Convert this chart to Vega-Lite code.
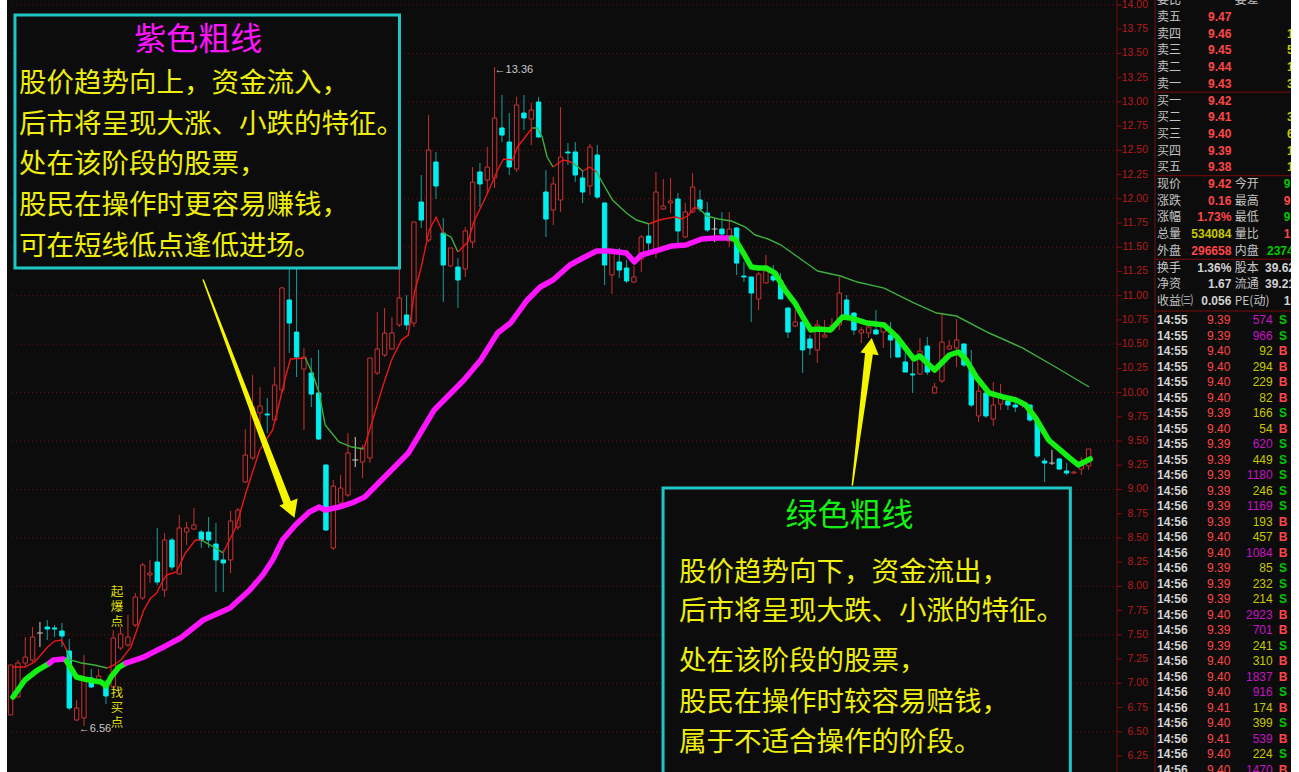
{
"$schema": "https://vega.github.io/schema/vega-lite/v6.json",
"width": 1284, "height": 772,
"autosize": {"type": "none"},
"padding": {"left": 7, "right": 8, "top": 0, "bottom": 0},
"background": "#ffffff",
"config": {"view": {"fill": "#0c0c0c", "stroke": null}},
"datasets": {
"levels": [{"lv":6.5},{"lv":7},{"lv":7.5},{"lv":8},{"lv":8.5},{"lv":9},{"lv":9.5},{"lv":10},{"lv":10.5},{"lv":11},{"lv":11.5},{"lv":12},{"lv":12.5},{"lv":13},{"lv":13.5},{"lv":14}],
"ticks": [{"v":6.25},{"v":6.5},{"v":6.75},{"v":7},{"v":7.25},{"v":7.5},{"v":7.75},{"v":8},{"v":8.25},{"v":8.5},{"v":8.75},{"v":9},{"v":9.25},{"v":9.5},{"v":9.75},{"v":10},{"v":10.25},{"v":10.5},{"v":10.75},{"v":11},{"v":11.25},{"v":11.5},{"v":11.75},{"v":12},{"v":12.25},{"v":12.5},{"v":12.75},{"v":13},{"v":13.25},{"v":13.5},{"v":13.75},{"v":14}],
"candles": [
{"i":0,"k":"up","o":6.673,"h":7.189,"l":6.673,"c":7.189},
{"i":1,"k":"up","o":6.859,"h":7.240,"l":6.849,"c":7.209},
{"i":2,"k":"up","o":7.209,"h":7.478,"l":7.168,"c":7.271},
{"i":3,"k":"up","o":7.240,"h":7.581,"l":7.220,"c":7.478},
{"i":4,"k":"doji","o":7.519,"h":7.633,"l":7.375,"c":7.519},
{"i":5,"k":"down","o":7.581,"h":7.653,"l":7.447,"c":7.560},
{"i":6,"k":"down","o":7.571,"h":7.602,"l":7.478,"c":7.560},
{"i":7,"k":"down","o":7.540,"h":7.622,"l":7.375,"c":7.488},
{"i":8,"k":"down","o":7.333,"h":7.457,"l":6.724,"c":6.745},
{"i":9,"k":"up","o":6.621,"h":6.828,"l":6.611,"c":6.745},
{"i":10,"k":"up","o":6.642,"h":7.292,"l":6.560,"c":7.034},
{"i":11,"k":"down","o":7.055,"h":7.148,"l":6.951,"c":6.962},
{"i":12,"k":"up","o":7.024,"h":7.148,"l":6.993,"c":7.075},
{"i":13,"k":"down","o":6.962,"h":7.034,"l":6.786,"c":6.869},
{"i":14,"k":"up","o":6.962,"h":7.550,"l":6.951,"c":7.467},
{"i":15,"k":"up","o":7.364,"h":7.581,"l":7.344,"c":7.509},
{"i":16,"k":"up","o":7.395,"h":7.705,"l":7.375,"c":7.478},
{"i":17,"k":"up","o":7.602,"h":7.932,"l":7.581,"c":7.891},
{"i":18,"k":"up","o":7.880,"h":8.242,"l":7.860,"c":8.221},
{"i":19,"k":"up","o":8.118,"h":8.273,"l":8.035,"c":8.138},
{"i":20,"k":"down","o":8.252,"h":8.603,"l":8.014,"c":8.045},
{"i":21,"k":"up","o":7.963,"h":8.551,"l":7.891,"c":8.479},
{"i":22,"k":"down","o":8.479,"h":8.499,"l":8.169,"c":8.200},
{"i":23,"k":"up","o":8.128,"h":8.737,"l":8.118,"c":8.603},
{"i":24,"k":"up","o":8.561,"h":8.665,"l":8.427,"c":8.603},
{"i":25,"k":"up","o":8.592,"h":8.809,"l":8.582,"c":8.634},
{"i":26,"k":"down","o":8.561,"h":8.582,"l":8.396,"c":8.479},
{"i":27,"k":"down","o":8.561,"h":8.716,"l":8.396,"c":8.479},
{"i":28,"k":"down","o":8.437,"h":8.654,"l":7.942,"c":8.273},
{"i":29,"k":"down","o":8.273,"h":8.376,"l":7.942,"c":8.242},
{"i":30,"k":"up","o":8.273,"h":8.778,"l":8.138,"c":8.675},
{"i":31,"k":"up","o":8.613,"h":8.809,"l":8.582,"c":8.788},
{"i":32,"k":"up","o":9.077,"h":9.624,"l":9.067,"c":9.356},
{"i":33,"k":"up","o":9.325,"h":10.182,"l":9.305,"c":9.851},
{"i":34,"k":"up","o":9.789,"h":10.058,"l":9.614,"c":9.862},
{"i":35,"k":"down","o":9.779,"h":9.944,"l":9.583,"c":9.769},
{"i":36,"k":"up","o":9.717,"h":10.264,"l":9.697,"c":10.078},
{"i":37,"k":"up","o":10.027,"h":11.090,"l":10.006,"c":11.080},
{"i":38,"k":"down","o":10.956,"h":11.472,"l":10.409,"c":10.718},
{"i":39,"k":"down","o":10.625,"h":11.400,"l":10.161,"c":10.367},
{"i":40,"k":"up","o":10.243,"h":10.460,"l":9.614,"c":10.367},
{"i":41,"k":"down","o":10.202,"h":10.357,"l":9.851,"c":9.985},
{"i":42,"k":"down","o":9.996,"h":10.440,"l":9.511,"c":9.521},
{"i":43,"k":"down","o":9.253,"h":9.253,"l":8.572,"c":8.582},
{"i":44,"k":"up","o":8.396,"h":9.098,"l":8.376,"c":9.036},
{"i":45,"k":"up","o":8.861,"h":9.150,"l":8.819,"c":9.015},
{"i":46,"k":"up","o":8.943,"h":9.583,"l":8.923,"c":9.377},
{"i":47,"k":"doji","o":9.305,"h":9.542,"l":9.232,"c":9.305},
{"i":48,"k":"up","o":9.284,"h":9.459,"l":9.118,"c":9.428},
{"i":49,"k":"up","o":9.325,"h":10.357,"l":9.273,"c":10.357},
{"i":50,"k":"up","o":10.202,"h":10.832,"l":10.182,"c":10.450},
{"i":51,"k":"up","o":10.388,"h":10.873,"l":10.367,"c":10.615},
{"i":52,"k":"up","o":10.450,"h":10.780,"l":10.440,"c":10.615},
{"i":53,"k":"up","o":10.698,"h":11.399,"l":10.677,"c":10.976},
{"i":54,"k":"down","o":10.801,"h":11.007,"l":10.646,"c":10.698},
{"i":55,"k":"up","o":10.718,"h":11.761,"l":10.677,"c":11.761},
{"i":56,"k":"down","o":11.967,"h":12.246,"l":11.699,"c":11.781},
{"i":57,"k":"up","o":11.575,"h":12.865,"l":11.554,"c":12.504},
{"i":58,"k":"down","o":12.380,"h":12.483,"l":11.998,"c":12.132},
{"i":59,"k":"down","o":11.647,"h":11.802,"l":10.935,"c":11.317},
{"i":60,"k":"up","o":11.307,"h":11.492,"l":11.296,"c":11.492},
{"i":61,"k":"down","o":11.296,"h":11.389,"l":10.873,"c":11.162},
{"i":62,"k":"up","o":11.276,"h":11.709,"l":11.193,"c":11.668},
{"i":63,"k":"up","o":11.554,"h":12.328,"l":11.492,"c":12.173},
{"i":64,"k":"down","o":12.277,"h":12.369,"l":11.915,"c":12.153},
{"i":65,"k":"up","o":12.194,"h":12.535,"l":12.060,"c":12.328},
{"i":66,"k":"up","o":12.215,"h":13.360,"l":12.111,"c":12.834},
{"i":67,"k":"down","o":12.731,"h":13.071,"l":12.586,"c":12.658},
{"i":68,"k":"down","o":12.586,"h":12.885,"l":12.246,"c":12.328},
{"i":69,"k":"up","o":12.307,"h":13.051,"l":12.277,"c":12.968},
{"i":70,"k":"down","o":12.885,"h":13.071,"l":12.710,"c":12.834},
{"i":71,"k":"up","o":12.823,"h":12.989,"l":12.555,"c":12.916},
{"i":72,"k":"down","o":12.999,"h":13.051,"l":12.627,"c":12.638},
{"i":73,"k":"down","o":12.070,"h":12.297,"l":11.606,"c":11.791},
{"i":74,"k":"up","o":11.884,"h":12.225,"l":11.730,"c":12.153},
{"i":75,"k":"up","o":11.988,"h":12.947,"l":11.864,"c":12.431},
{"i":76,"k":"down","o":12.483,"h":12.576,"l":12.349,"c":12.473},
{"i":77,"k":"down","o":12.483,"h":12.586,"l":12.173,"c":12.246},
{"i":78,"k":"down","o":12.215,"h":12.297,"l":11.957,"c":12.070},
{"i":79,"k":"up","o":12.132,"h":12.566,"l":12.039,"c":12.535},
{"i":80,"k":"down","o":12.452,"h":12.555,"l":11.998,"c":12.018},
{"i":81,"k":"down","o":11.957,"h":11.957,"l":11.110,"c":11.317},
{"i":82,"k":"up","o":11.214,"h":11.472,"l":11.018,"c":11.451},
{"i":83,"k":"down","o":11.348,"h":11.492,"l":11.183,"c":11.265},
{"i":84,"k":"down","o":11.286,"h":11.369,"l":11.131,"c":11.152},
{"i":85,"k":"up","o":11.141,"h":11.307,"l":11.131,"c":11.193},
{"i":86,"k":"up","o":11.379,"h":11.626,"l":11.245,"c":11.606},
{"i":87,"k":"down","o":11.616,"h":11.750,"l":11.451,"c":11.544},
{"i":88,"k":"up","o":11.441,"h":12.277,"l":11.389,"c":12.070},
{"i":89,"k":"up","o":11.895,"h":12.204,"l":11.884,"c":11.926},
{"i":90,"k":"up","o":11.957,"h":12.215,"l":11.853,"c":11.977},
{"i":91,"k":"down","o":11.998,"h":12.060,"l":11.544,"c":11.668},
{"i":92,"k":"up","o":11.606,"h":11.957,"l":11.595,"c":11.864},
{"i":93,"k":"up","o":11.864,"h":12.266,"l":11.853,"c":12.122},
{"i":94,"k":"down","o":11.988,"h":12.091,"l":11.864,"c":11.895},
{"i":95,"k":"down","o":11.853,"h":11.967,"l":11.657,"c":11.678},
{"i":96,"k":"doji","o":11.688,"h":11.791,"l":11.554,"c":11.688},
{"i":97,"k":"down","o":11.688,"h":11.864,"l":11.606,"c":11.637},
{"i":98,"k":"up","o":11.564,"h":11.864,"l":11.503,"c":11.688},
{"i":99,"k":"down","o":11.699,"h":11.699,"l":11.214,"c":11.337},
{"i":100,"k":"down","o":11.203,"h":11.348,"l":11.141,"c":11.193},
{"i":101,"k":"down","o":11.193,"h":11.193,"l":10.729,"c":11.028},
{"i":102,"k":"up","o":10.966,"h":11.245,"l":10.852,"c":11.224},
{"i":103,"k":"up","o":11.131,"h":11.420,"l":11.131,"c":11.255},
{"i":104,"k":"down","o":11.203,"h":11.317,"l":11.141,"c":11.162},
{"i":105,"k":"down","o":11.152,"h":11.234,"l":10.966,"c":10.966},
{"i":106,"k":"down","o":10.873,"h":10.873,"l":10.563,"c":10.625},
{"i":107,"k":"up","o":10.687,"h":10.852,"l":10.677,"c":10.729},
{"i":108,"k":"down","o":10.729,"h":10.729,"l":10.202,"c":10.440},
{"i":109,"k":"down","o":10.553,"h":10.594,"l":10.388,"c":10.460},
{"i":110,"k":"up","o":10.440,"h":10.749,"l":10.305,"c":10.698},
{"i":111,"k":"up","o":10.573,"h":10.749,"l":10.573,"c":10.594},
{"i":112,"k":"up","o":10.646,"h":10.770,"l":10.625,"c":10.698},
{"i":113,"k":"up","o":10.698,"h":11.193,"l":10.646,"c":11.028},
{"i":114,"k":"down","o":10.956,"h":11.007,"l":10.780,"c":10.780},
{"i":115,"k":"down","o":10.821,"h":10.832,"l":10.594,"c":10.646},
{"i":116,"k":"up","o":10.615,"h":10.677,"l":10.512,"c":10.646},
{"i":117,"k":"up","o":10.615,"h":10.729,"l":10.563,"c":10.677},
{"i":118,"k":"down","o":10.646,"h":10.852,"l":10.594,"c":10.605},
{"i":119,"k":"up","o":10.625,"h":10.729,"l":10.460,"c":10.718},
{"i":120,"k":"down","o":10.594,"h":10.729,"l":10.357,"c":10.543},
{"i":121,"k":"down","o":10.543,"h":10.563,"l":10.367,"c":10.367},
{"i":122,"k":"down","o":10.316,"h":10.409,"l":10.212,"c":10.212},
{"i":123,"k":"down","o":10.192,"h":10.316,"l":9.996,"c":10.182},
{"i":124,"k":"up","o":10.192,"h":10.563,"l":10.182,"c":10.429},
{"i":125,"k":"down","o":10.481,"h":10.574,"l":10.182,"c":10.212},
{"i":126,"k":"up","o":9.996,"h":10.099,"l":9.996,"c":10.058},
{"i":127,"k":"up","o":10.120,"h":10.821,"l":10.099,"c":10.522},
{"i":128,"k":"up","o":10.450,"h":10.543,"l":10.440,"c":10.481},
{"i":129,"k":"up","o":10.460,"h":10.759,"l":10.264,"c":10.543},
{"i":130,"k":"down","o":10.502,"h":10.502,"l":10.264,"c":10.285},
{"i":131,"k":"down","o":10.243,"h":10.440,"l":9.851,"c":9.872},
{"i":132,"k":"up","o":9.759,"h":10.130,"l":9.697,"c":10.016},
{"i":133,"k":"down","o":9.996,"h":10.027,"l":9.738,"c":9.759},
{"i":134,"k":"up","o":9.727,"h":10.109,"l":9.655,"c":9.872},
{"i":135,"k":"up","o":9.882,"h":10.089,"l":9.820,"c":9.955},
{"i":136,"k":"down","o":9.913,"h":9.944,"l":9.820,"c":9.872},
{"i":137,"k":"down","o":9.872,"h":9.903,"l":9.800,"c":9.851},
{"i":138,"k":"up","o":9.872,"h":9.924,"l":9.841,"c":9.903},
{"i":139,"k":"down","o":9.872,"h":9.872,"l":9.697,"c":9.717},
{"i":140,"k":"down","o":9.697,"h":9.748,"l":9.325,"c":9.346},
{"i":141,"k":"down","o":9.294,"h":9.325,"l":9.077,"c":9.273},
{"i":142,"k":"doji","o":9.273,"h":9.408,"l":9.253,"c":9.273},
{"i":143,"k":"down","o":9.315,"h":9.325,"l":9.201,"c":9.211},
{"i":144,"k":"down","o":9.191,"h":9.273,"l":9.150,"c":9.170},
{"i":145,"k":"up","o":9.170,"h":9.191,"l":9.160,"c":9.180},
{"i":146,"k":"up","o":9.211,"h":9.335,"l":9.150,"c":9.253},
{"i":147,"k":"up","o":9.242,"h":9.418,"l":9.201,"c":9.418}
],
"thin": [
{"s":1,"d":"maUp","i":0.32,"v":7.168},{"s":1,"d":"maUp","i":1.95,"v":7.168},{"s":1,"d":"maUp","i":3.30,"v":7.220},{"s":1,"d":"maUp","i":5.05,"v":7.375},{"s":1,"d":"maUp","i":6.0,"v":7.436},{"s":1,"d":"maUp","i":6.95,"v":7.447},{"s":1,"d":"maUp","i":7.62,"v":7.344},
{"s":2,"d":"maDown","i":7.62,"v":7.344},{"s":2,"d":"maDown","i":8.16,"v":7.240},{"s":2,"d":"maDown","i":9.65,"v":7.209},{"s":2,"d":"maDown","i":11.41,"v":7.189},{"s":2,"d":"maDown","i":13.16,"v":7.158},
{"s":3,"d":"maUp","i":13.16,"v":7.158},{"s":3,"d":"maUp","i":14.11,"v":7.189},{"s":3,"d":"maUp","i":15.05,"v":7.240},{"s":3,"d":"maUp","i":16.41,"v":7.375},{"s":3,"d":"maUp","i":17.22,"v":7.550},{"s":3,"d":"maUp","i":18.16,"v":7.756},{"s":3,"d":"maUp","i":19.11,"v":7.880},{"s":3,"d":"maUp","i":19.92,"v":7.932},{"s":3,"d":"maUp","i":20.59,"v":8.035},{"s":3,"d":"maUp","i":21.27,"v":8.118},{"s":3,"d":"maUp","i":22.62,"v":8.149},{"s":3,"d":"maUp","i":23.84,"v":8.345},{"s":3,"d":"maUp","i":25.19,"v":8.479},{"s":3,"d":"maUp","i":26.0,"v":8.479},
{"s":4,"d":"maDown","i":26.0,"v":8.479},{"s":4,"d":"maDown","i":27.22,"v":8.427},{"s":4,"d":"maDown","i":28.97,"v":8.345},
{"s":5,"d":"maUp","i":28.97,"v":8.345},{"s":5,"d":"maUp","i":30.73,"v":8.613},{"s":5,"d":"maUp","i":32.08,"v":8.964},{"s":5,"d":"maUp","i":33.97,"v":9.408},{"s":5,"d":"maUp","i":35.73,"v":9.614},{"s":5,"d":"maUp","i":37.08,"v":10.027},{"s":5,"d":"maUp","i":37.49,"v":10.161},{"s":5,"d":"maUp","i":38.16,"v":10.347},{"s":5,"d":"maUp","i":40.19,"v":10.357},
{"s":6,"d":"maDown","i":40.19,"v":10.357},{"s":6,"d":"maDown","i":41.14,"v":10.202},{"s":6,"d":"maDown","i":42.08,"v":9.996},{"s":6,"d":"maDown","i":42.89,"v":9.665},{"s":6,"d":"maDown","i":44.78,"v":9.490},{"s":6,"d":"maDown","i":46.54,"v":9.438},{"s":6,"d":"maDown","i":48.16,"v":9.418},
{"s":7,"d":"maUp","i":48.16,"v":9.418},{"s":7,"d":"maUp","i":49.24,"v":9.686},{"s":7,"d":"maUp","i":50.59,"v":10.027},{"s":7,"d":"maUp","i":51.95,"v":10.336},{"s":7,"d":"maUp","i":53.3,"v":10.542},{"s":7,"d":"maUp","i":54.24,"v":10.594},{"s":7,"d":"maUp","i":55.05,"v":11.028},{"s":7,"d":"maUp","i":56.0,"v":11.296},{"s":7,"d":"maUp","i":57.08,"v":11.678},{"s":7,"d":"maUp","i":58.03,"v":11.812},{"s":7,"d":"maUp","i":58.97,"v":11.647},
{"s":8,"d":"maDown","i":58.97,"v":11.647},{"s":8,"d":"maDown","i":60.05,"v":11.606},{"s":8,"d":"maDown","i":61.0,"v":11.451},
{"s":9,"d":"maUp","i":61.0,"v":11.451},{"s":9,"d":"maUp","i":62.35,"v":11.554},{"s":9,"d":"maUp","i":63.16,"v":11.761},{"s":9,"d":"maUp","i":65.05,"v":12.060},{"s":9,"d":"maUp","i":66.41,"v":12.297},{"s":9,"d":"maUp","i":67.22,"v":12.411},{"s":9,"d":"maUp","i":68.43,"v":12.400},{"s":9,"d":"maUp","i":69.11,"v":12.535},{"s":9,"d":"maUp","i":71.14,"v":12.731},
{"s":10,"d":"maDown","i":71.14,"v":12.731},{"s":10,"d":"maDown","i":71.81,"v":12.731},{"s":10,"d":"maDown","i":72.49,"v":12.638},{"s":10,"d":"maDown","i":73.16,"v":12.431},{"s":10,"d":"maDown","i":73.97,"v":12.328},
{"s":11,"d":"maUp","i":73.97,"v":12.328},{"s":11,"d":"maUp","i":75.32,"v":12.400},{"s":11,"d":"maUp","i":76.0,"v":12.390},{"s":11,"d":"maUp","i":76.68,"v":12.369},
{"s":12,"d":"maDown","i":76.68,"v":12.369},{"s":12,"d":"maDown","i":78.03,"v":12.287},
{"s":13,"d":"maUp","i":78.03,"v":12.287},{"s":13,"d":"maUp","i":78.97,"v":12.328},{"s":13,"d":"maUp","i":79.92,"v":12.277},
{"s":14,"d":"maDown","i":79.92,"v":12.277},{"s":14,"d":"maDown","i":80.73,"v":12.163},{"s":14,"d":"maDown","i":82.08,"v":11.988},{"s":14,"d":"maDown","i":83.97,"v":11.854},{"s":14,"d":"maDown","i":85.32,"v":11.781},{"s":14,"d":"maDown","i":87.08,"v":11.740},
{"s":15,"d":"maUp","i":87.08,"v":11.740},{"s":15,"d":"maUp","i":88.43,"v":11.781},{"s":15,"d":"maUp","i":89.78,"v":11.802},{"s":15,"d":"maUp","i":90.73,"v":11.812},{"s":15,"d":"maUp","i":91.54,"v":11.791},{"s":15,"d":"maUp","i":92.49,"v":11.833},{"s":15,"d":"maUp","i":93.16,"v":11.905},{"s":15,"d":"maUp","i":93.84,"v":11.905},
{"s":16,"d":"maDown","i":93.84,"v":11.905},{"s":16,"d":"maDown","i":94.92,"v":11.822},{"s":16,"d":"maDown","i":96.54,"v":11.791},{"s":16,"d":"maDown","i":98.3,"v":11.771},{"s":16,"d":"maDown","i":100.19,"v":11.709},{"s":16,"d":"maDown","i":101.54,"v":11.626},{"s":16,"d":"maDown","i":103.3,"v":11.585},{"s":16,"d":"maDown","i":105.05,"v":11.523},{"s":16,"d":"maDown","i":106.95,"v":11.420},{"s":16,"d":"maDown","i":108.7,"v":11.327},{"s":16,"d":"maDown","i":110.05,"v":11.255},{"s":16,"d":"maDown","i":113.16,"v":11.203},{"s":16,"d":"maDown","i":115.46,"v":11.141},{"s":16,"d":"maDown","i":119.11,"v":11.079},{"s":16,"d":"maDown","i":123.16,"v":10.925},{"s":16,"d":"maDown","i":126.27,"v":10.821},{"s":16,"d":"maDown","i":128.97,"v":10.790},{"s":16,"d":"maDown","i":133.43,"v":10.615},{"s":16,"d":"maDown","i":138.03,"v":10.460},{"s":16,"d":"maDown","i":142.49,"v":10.264},{"s":16,"d":"maDown","i":147.08,"v":10.058}
],
"thick": [
{"s":1,"d":"trendDown","i":0.32,"v":6.859},{"s":1,"d":"trendDown","i":1.95,"v":7.034},{"s":1,"d":"trendDown","i":3.70,"v":7.137},{"s":1,"d":"trendDown","i":5.32,"v":7.209},
{"s":2,"d":"trendUp","i":5.32,"v":7.209},{"s":2,"d":"trendUp","i":5.86,"v":7.240},{"s":2,"d":"trendUp","i":7.22,"v":7.251},{"s":2,"d":"trendUp","i":7.62,"v":7.230},
{"s":3,"d":"trendDown","i":7.62,"v":7.230},{"s":3,"d":"trendDown","i":8.97,"v":7.065},{"s":3,"d":"trendDown","i":10.05,"v":7.044},{"s":3,"d":"trendDown","i":11.41,"v":7.024},{"s":3,"d":"trendDown","i":12.35,"v":7.013},{"s":3,"d":"trendDown","i":13.03,"v":6.972},{"s":3,"d":"trendDown","i":13.7,"v":7.065},{"s":3,"d":"trendDown","i":14.78,"v":7.168},{"s":3,"d":"trendDown","i":15.73,"v":7.209},
{"s":4,"d":"trendUp","i":15.73,"v":7.209},{"s":4,"d":"trendUp","i":18.16,"v":7.271},{"s":4,"d":"trendUp","i":20.86,"v":7.375},{"s":4,"d":"trendUp","i":23.16,"v":7.467},{"s":4,"d":"trendUp","i":26.27,"v":7.653},{"s":4,"d":"trendUp","i":29.92,"v":7.777},{"s":4,"d":"trendUp","i":32.62,"v":7.963},{"s":4,"d":"trendUp","i":34.38,"v":8.118},{"s":4,"d":"trendUp","i":35.73,"v":8.273},{"s":4,"d":"trendUp","i":37.08,"v":8.479},{"s":4,"d":"trendUp","i":38.84,"v":8.634},{"s":4,"d":"trendUp","i":40.73,"v":8.768},{"s":4,"d":"trendUp","i":42.08,"v":8.819},{"s":4,"d":"trendUp","i":42.89,"v":8.788},{"s":4,"d":"trendUp","i":44.78,"v":8.819},{"s":4,"d":"trendUp","i":46.54,"v":8.861},{"s":4,"d":"trendUp","i":48.30,"v":8.923},{"s":4,"d":"trendUp","i":50.59,"v":9.098},{"s":4,"d":"trendUp","i":54.24,"v":9.377},{"s":4,"d":"trendUp","i":57.76,"v":9.820},{"s":4,"d":"trendUp","i":61.81,"v":10.130},{"s":4,"d":"trendUp","i":64.11,"v":10.336},{"s":4,"d":"trendUp","i":66.41,"v":10.615},{"s":4,"d":"trendUp","i":68.16,"v":10.718},{"s":4,"d":"trendUp","i":70.46,"v":10.956},{"s":4,"d":"trendUp","i":72.22,"v":11.090},{"s":4,"d":"trendUp","i":73.97,"v":11.162},{"s":4,"d":"trendUp","i":76.27,"v":11.317},{"s":4,"d":"trendUp","i":78.03,"v":11.389},{"s":4,"d":"trendUp","i":79.92,"v":11.461},{"s":4,"d":"trendUp","i":81.68,"v":11.461},{"s":4,"d":"trendUp","i":83.97,"v":11.441},{"s":4,"d":"trendUp","i":85.05,"v":11.348},{"s":4,"d":"trendUp","i":86.0,"v":11.420},{"s":4,"d":"trendUp","i":88.43,"v":11.472},{"s":4,"d":"trendUp","i":90.19,"v":11.513},{"s":4,"d":"trendUp","i":92.08,"v":11.523},{"s":4,"d":"trendUp","i":94.24,"v":11.585},{"s":4,"d":"trendUp","i":96.14,"v":11.595},{"s":4,"d":"trendUp","i":98.3,"v":11.595},
{"s":5,"d":"trendDown","i":98.3,"v":11.595},{"s":5,"d":"trendDown","i":98.84,"v":11.575},{"s":5,"d":"trendDown","i":99.92,"v":11.441},{"s":5,"d":"trendDown","i":101.0,"v":11.296},{"s":5,"d":"trendDown","i":101.95,"v":11.286},{"s":5,"d":"trendDown","i":103.03,"v":11.286},{"s":5,"d":"trendDown","i":104.24,"v":11.234},{"s":5,"d":"trendDown","i":105.59,"v":11.059},{"s":5,"d":"trendDown","i":106.95,"v":10.925},{"s":5,"d":"trendDown","i":108.03,"v":10.780},{"s":5,"d":"trendDown","i":109.11,"v":10.646},{"s":5,"d":"trendDown","i":110.05,"v":10.656},{"s":5,"d":"trendDown","i":111.81,"v":10.646},{"s":5,"d":"trendDown","i":113.43,"v":10.780},{"s":5,"d":"trendDown","i":114.51,"v":10.770},{"s":5,"d":"trendDown","i":116.81,"v":10.718},{"s":5,"d":"trendDown","i":119.11,"v":10.698},{"s":5,"d":"trendDown","i":120.86,"v":10.574},{"s":5,"d":"trendDown","i":123.16,"v":10.347},{"s":5,"d":"trendDown","i":123.97,"v":10.378},{"s":5,"d":"trendDown","i":126.0,"v":10.233},{"s":5,"d":"trendDown","i":128.03,"v":10.388},{"s":5,"d":"trendDown","i":129.24,"v":10.419},{"s":5,"d":"trendDown","i":130.32,"v":10.336},{"s":5,"d":"trendDown","i":131.68,"v":10.161},{"s":5,"d":"trendDown","i":133.43,"v":9.996},{"s":5,"d":"trendDown","i":135.32,"v":9.955},{"s":5,"d":"trendDown","i":137.08,"v":9.924},{"s":5,"d":"trendDown","i":138.43,"v":9.872},{"s":5,"d":"trendDown","i":139.78,"v":9.738},{"s":5,"d":"trendDown","i":141.54,"v":9.511},{"s":5,"d":"trendDown","i":144.24,"v":9.336},{"s":5,"d":"trendDown","i":145.59,"v":9.253},{"s":5,"d":"trendDown","i":147.22,"v":9.315}
],
"boxes": [
{"i1":0.595,"i2":53.03,"p1":13.897,"p2":11.286},
{"i1":88.97,"i2":144.51,"p1":9.015,"p2":6.0}
],
"notes": [
{"kind":"title","i":25.59,"p":13.639,"text":"紫色粗线","tone":"trendUp"},
{"kind":"title","i":114.38,"p":8.727,"text":"绿色粗线","tone":"trendDown"},
{"kind":"body","i":1.135,"p":13.185,"text":"股价趋势向上，资金流入，","tone":"note"},
{"kind":"body","i":1.135,"p":12.762,"text":"后市将呈现大涨、小跌的特征。","tone":"note"},
{"kind":"body","i":1.135,"p":12.349,"text":"处在该阶段的股票，","tone":"note"},
{"kind":"body","i":1.135,"p":11.926,"text":"股民在操作时更容易赚钱，","tone":"note"},
{"kind":"body","i":1.135,"p":11.503,"text":"可在短线低点逢低进场。","tone":"note"},
{"kind":"body","i":91.14,"p":8.138,"text":"股价趋势向下，资金流出，","tone":"note"},
{"kind":"body","i":91.14,"p":7.736,"text":"后市将呈现大跌、小涨的特征。","tone":"note"},
{"kind":"body","i":91.14,"p":7.220,"text":"处在该阶段的股票，","tone":"note"},
{"kind":"body","i":91.14,"p":6.797,"text":"股民在操作时较容易赔钱，","tone":"note"},
{"kind":"body","i":91.14,"p":6.384,"text":"属于不适合操作的阶段。","tone":"note"},
{"kind":"tag","i":14.51,"p":7.942,"text":"起\n爆\n点","tone":"note"},
{"kind":"tag","i":14.51,"p":6.900,"text":"找\n买\n点","tone":"note"},
{"kind":"mark","i":9.3,"p":6.56,"text":"←6.56","tone":"plain"},
{"kind":"mark","i":66,"p":13.36,"text":"←13.36","tone":"plain"}
],
"arrows": [
{"a":1,"i":26.27,"p":11.162,"t":0},{"a":1,"i":37.89,"p":8.83,"t":1},
{"a":2,"i":114.78,"p":9.046,"t":0},{"a":2,"i":117.08,"p":10.419,"t":1}
],
"heads": [
{"a":1,"i":38.3,"p":8.789},
{"a":2,"i":117.28,"p":10.481}
],
"frame": [{"col":"a"}],
"seps": [{"row":4.5},{"row":9.5},{"row":14.5},{"row":17.6}],
"book": [
{"row":-1,"k1":"委比","v1":"","k2":"委差","v2":"","t1":"plain","t2":"plain"},
{"row":0,"k1":"卖五","v1":"9.47","k2":"","v2":"","t1":"rise","t2":"vol"},
{"row":1,"k1":"卖四","v1":"9.46","k2":"","v2":"125","t1":"rise","t2":"vol"},
{"row":2,"k1":"卖三","v1":"9.45","k2":"","v2":"512","t1":"rise","t2":"vol"},
{"row":3,"k1":"卖二","v1":"9.44","k2":"","v2":"143","t1":"rise","t2":"vol"},
{"row":4,"k1":"卖一","v1":"9.43","k2":"","v2":"318","t1":"rise","t2":"vol"},
{"row":5,"k1":"买一","v1":"9.42","k2":"","v2":"","t1":"rise","t2":"vol"},
{"row":6,"k1":"买二","v1":"9.41","k2":"","v2":"356","t1":"rise","t2":"vol"},
{"row":7,"k1":"买三","v1":"9.40","k2":"","v2":"621","t1":"rise","t2":"vol"},
{"row":8,"k1":"买四","v1":"9.39","k2":"","v2":"187","t1":"rise","t2":"vol"},
{"row":9,"k1":"买五","v1":"9.38","k2":"","v2":"164","t1":"rise","t2":"vol"},
{"row":10,"k1":"现价","v1":"9.42","k2":"今开","v2":"9.24","t1":"rise","t2":"fall"},
{"row":11,"k1":"涨跌","v1":"0.16","k2":"最高","v2":"9.42","t1":"rise","t2":"rise"},
{"row":12,"k1":"涨幅","v1":"1.73%","k2":"最低","v2":"9.20","t1":"rise","t2":"fall"},
{"row":13,"k1":"总量","v1":"534084","k2":"量比","v2":"1.05","t1":"vol","t2":"rise"},
{"row":14,"k1":"外盘","v1":"296658","k2":"内盘","v2":"237426","t1":"rise","t2":"fall"},
{"row":15,"k1":"换手","v1":"1.36%","k2":"股本","v2":"39.62亿","t1":"plain","t2":"plain"},
{"row":16,"k1":"净资","v1":"1.67","k2":"流通","v2":"39.21亿","t1":"plain","t2":"plain"},
{"row":17,"k1":"收益㈢","v1":"0.056","k2":"PE(动)","v2":"12.8","t1":"plain","t2":"plain"}
],
"trades": [
{"row":0,"time":"14:55","price":"9.39","vol":"574","vt":"big","side":"S"},
{"row":1,"time":"14:55","price":"9.39","vol":"966","vt":"big","side":"S"},
{"row":2,"time":"14:55","price":"9.40","vol":"92","vt":"vol","side":"B"},
{"row":3,"time":"14:55","price":"9.40","vol":"294","vt":"vol","side":"B"},
{"row":4,"time":"14:55","price":"9.40","vol":"229","vt":"vol","side":"B"},
{"row":5,"time":"14:55","price":"9.40","vol":"82","vt":"vol","side":"B"},
{"row":6,"time":"14:55","price":"9.39","vol":"166","vt":"vol","side":"S"},
{"row":7,"time":"14:55","price":"9.40","vol":"54","vt":"vol","side":"B"},
{"row":8,"time":"14:55","price":"9.39","vol":"620","vt":"big","side":"S"},
{"row":9,"time":"14:55","price":"9.39","vol":"449","vt":"vol","side":"S"},
{"row":10,"time":"14:56","price":"9.39","vol":"1180","vt":"big","side":"S"},
{"row":11,"time":"14:56","price":"9.39","vol":"246","vt":"vol","side":"S"},
{"row":12,"time":"14:56","price":"9.39","vol":"1169","vt":"big","side":"S"},
{"row":13,"time":"14:56","price":"9.39","vol":"193","vt":"vol","side":"B"},
{"row":14,"time":"14:56","price":"9.40","vol":"457","vt":"vol","side":"B"},
{"row":15,"time":"14:56","price":"9.40","vol":"1084","vt":"big","side":"B"},
{"row":16,"time":"14:56","price":"9.39","vol":"85","vt":"vol","side":"S"},
{"row":17,"time":"14:56","price":"9.39","vol":"232","vt":"vol","side":"S"},
{"row":18,"time":"14:56","price":"9.39","vol":"214","vt":"vol","side":"S"},
{"row":19,"time":"14:56","price":"9.40","vol":"2923","vt":"big","side":"B"},
{"row":20,"time":"14:56","price":"9.39","vol":"701","vt":"big","side":"B"},
{"row":21,"time":"14:56","price":"9.39","vol":"241","vt":"vol","side":"S"},
{"row":22,"time":"14:56","price":"9.40","vol":"310","vt":"vol","side":"B"},
{"row":23,"time":"14:56","price":"9.40","vol":"1837","vt":"big","side":"B"},
{"row":24,"time":"14:56","price":"9.40","vol":"916","vt":"big","side":"S"},
{"row":25,"time":"14:56","price":"9.41","vol":"174","vt":"vol","side":"B"},
{"row":26,"time":"14:56","price":"9.40","vol":"399","vt":"vol","side":"S"},
{"row":27,"time":"14:56","price":"9.41","vol":"539","vt":"big","side":"B"},
{"row":28,"time":"14:56","price":"9.40","vol":"224","vt":"vol","side":"S"},
{"row":29,"time":"14:56","price":"9.40","vol":"1470","vt":"big","side":"B"}
]
},
"layer": [
{
"layer": [
{"data":{"name":"levels"},"mark":{"type":"rule","stroke":"#701010","strokeWidth":1,"strokeDash":[1,3]},
 "encoding":{
  "x":{"datum":0.19,"type":"quantitative","scale":{"domain":[0.19,150.19],"range":[0,1110],"nice":false,"zero":false},"axis":null},
  "x2":{"datum":150.87},
  "y":{"field":"lv","type":"quantitative","scale":{"domain":[6.0846,14.0516],"nice":false,"zero":false},"axis":null}
 }},
{"data":{"name":"frame"},"mark":{"type":"rule","stroke":"#7a0c0c","strokeWidth":1},
 "encoding":{
  "x":{"datum":150.87,"type":"quantitative","scale":{"domain":[0.19,150.19],"range":[0,1110],"nice":false,"zero":false},"axis":null}
 }},
{"data":{"name":"ticks"},"mark":{"type":"rule","stroke":"#8a0c0c","strokeWidth":1},
 "encoding":{
  "x":{"datum":150.87,"type":"quantitative","scale":{"domain":[0.19,150.19],"range":[0,1110],"nice":false,"zero":false},"axis":null},
  "x2":{"datum":151.55},
  "y":{"field":"v","type":"quantitative","axis":null}
 }},
{"data":{"name":"ticks"},"mark":{"type":"text","align":"right","baseline":"middle","dx":31,"font":"Liberation Sans Narrow, Liberation Sans, Arial","fontSize":10.5,"color":"#b41c1c"},
 "encoding":{
  "x":{"datum":150.87,"type":"quantitative","scale":{"domain":[0.19,150.19],"range":[0,1110],"nice":false,"zero":false},"axis":null},
  "y":{"field":"v","type":"quantitative","axis":null},
  "text":{"field":"v","type":"quantitative","format":".2f"}
 }},
{"data":{"name":"candles"},"mark":{"type":"rule","strokeWidth":1,"clip":true},
 "encoding":{
  "x":{"field":"i","type":"quantitative","scale":{"domain":[0.19,150.19],"range":[0,1110],"nice":false,"zero":false},"axis":null},
  "y":{"field":"l","type":"quantitative","axis":null},
  "y2":{"field":"h"},
  "color":{"field":"k","type":"nominal","legend":null,"scale":{"domain":["up","down","doji","maUp","maDown","trendUp","trendDown","note","rise","fall","vol","big","plain","B","S"],"range":["#c83232","#1a9c9c","#d2d2d2","#e81818","#3fae3f","#ff14ff","#14f014","#eeee10","#ff4646","#00c800","#c8c800","#c414c4","#d2d2d2","#ff4646","#00c800"]}}
 }},
{"data":{"name":"candles"},"transform":[{"filter":"datum.k !== 'doji'"}],"mark":{"type":"bar","size":4.4,"strokeWidth":1,"clip":true},
 "encoding":{
  "x":{"field":"i","type":"quantitative","scale":{"domain":[0.19,150.19],"range":[0,1110],"nice":false,"zero":false},"axis":null},
  "y":{"field":"o","type":"quantitative","axis":null},
  "y2":{"field":"c"},
  "fill":{"field":"k","type":"nominal","legend":null,"scale":{"domain":["up","down"],"range":["#0c0c0c","#00eeee"]}},
  "stroke":{"field":"k","type":"nominal","legend":null,"scale":{"domain":["up","down"],"range":["#c83232","#00eeee"]}}
 }},
{"data":{"name":"candles"},"transform":[{"filter":"datum.k === 'doji'"}],"mark":{"type":"tick","orient":"horizontal","size":6,"thickness":1.3,"color":"#d2d2d2","clip":true},
 "encoding":{
  "x":{"field":"i","type":"quantitative","scale":{"domain":[0.19,150.19],"range":[0,1110],"nice":false,"zero":false},"axis":null},
  "y":{"field":"o","type":"quantitative","axis":null}
 }},
{"data":{"name":"thin"},"mark":{"type":"line","strokeWidth":1.4,"clip":true},
 "encoding":{
  "x":{"field":"i","type":"quantitative","scale":{"domain":[0.19,150.19],"range":[0,1110],"nice":false,"zero":false},"axis":null},
  "y":{"field":"v","type":"quantitative","axis":null},
  "detail":{"field":"s","type":"nominal"},
  "color":{"field":"d","type":"nominal","legend":null,"scale":{"domain":["up","down","doji","maUp","maDown","trendUp","trendDown","note","rise","fall","vol","big","plain","B","S"],"range":["#c83232","#1a9c9c","#d2d2d2","#e81818","#3fae3f","#ff14ff","#14f014","#eeee10","#ff4646","#00c800","#c8c800","#c414c4","#d2d2d2","#ff4646","#00c800"]}}
 }},
{"data":{"name":"thick"},"mark":{"type":"line","strokeWidth":5.5,"strokeCap":"round","strokeJoin":"round","clip":true},
 "encoding":{
  "x":{"field":"i","type":"quantitative","scale":{"domain":[0.19,150.19],"range":[0,1110],"nice":false,"zero":false},"axis":null},
  "y":{"field":"v","type":"quantitative","axis":null},
  "detail":{"field":"s","type":"nominal"},
  "color":{"field":"d","type":"nominal","legend":null,"scale":{"domain":["up","down","doji","maUp","maDown","trendUp","trendDown","note","rise","fall","vol","big","plain","B","S"],"range":["#c83232","#1a9c9c","#d2d2d2","#e81818","#3fae3f","#ff14ff","#14f014","#eeee10","#ff4646","#00c800","#c8c800","#c414c4","#d2d2d2","#ff4646","#00c800"]}}
 }},
{"data":{"name":"boxes"},"mark":{"type":"rect","fill":"#0c0c0c","stroke":"#1fc6c6","strokeWidth":3,"clip":true},
 "encoding":{
  "x":{"field":"i1","type":"quantitative","scale":{"domain":[0.19,150.19],"range":[0,1110],"nice":false,"zero":false},"axis":null},
  "x2":{"field":"i2"},
  "y":{"field":"p1","type":"quantitative","axis":null},
  "y2":{"field":"p2"}
 }},
{"data":{"name":"notes"},"transform":[{"filter":"datum.kind === 'title'"}],"mark":{"type":"text","align":"center","baseline":"middle","font":"Noto Sans CJK SC","fontSize":32},
 "encoding":{
  "x":{"field":"i","type":"quantitative","scale":{"domain":[0.19,150.19],"range":[0,1110],"nice":false,"zero":false},"axis":null},
  "y":{"field":"p","type":"quantitative","axis":null},
  "text":{"field":"text"},
  "color":{"field":"tone","type":"nominal","legend":null,"scale":{"domain":["up","down","doji","maUp","maDown","trendUp","trendDown","note","rise","fall","vol","big","plain","B","S"],"range":["#c83232","#1a9c9c","#d2d2d2","#e81818","#3fae3f","#ff14ff","#14f014","#eeee10","#ff4646","#00c800","#c8c800","#c414c4","#d2d2d2","#ff4646","#00c800"]}}
 }},
{"data":{"name":"notes"},"transform":[{"filter":"datum.kind === 'body'"}],"mark":{"type":"text","align":"left","baseline":"middle","font":"Noto Sans CJK SC","fontSize":27.5,"color":"#eeee10"},
 "encoding":{
  "x":{"field":"i","type":"quantitative","scale":{"domain":[0.19,150.19],"range":[0,1110],"nice":false,"zero":false},"axis":null},
  "y":{"field":"p","type":"quantitative","axis":null},
  "text":{"field":"text"}
 }},
{"data":{"name":"notes"},"transform":[{"filter":"datum.kind === 'tag'"}],"mark":{"type":"text","align":"center","baseline":"middle","font":"Noto Sans CJK SC","fontSize":12.5,"lineBreak":"\n","lineHeight":15,"color":"#dcdc10"},
 "encoding":{
  "x":{"field":"i","type":"quantitative","scale":{"domain":[0.19,150.19],"range":[0,1110],"nice":false,"zero":false},"axis":null},
  "y":{"field":"p","type":"quantitative","axis":null},
  "text":{"field":"text"}
 }},
{"data":{"name":"notes"},"transform":[{"filter":"datum.kind === 'mark'"}],"mark":{"type":"text","align":"left","baseline":"middle","dy":3,"font":"Liberation Sans Narrow, Liberation Sans, Arial","fontSize":11,"color":"#c8c8c8"},
 "encoding":{
  "x":{"field":"i","type":"quantitative","scale":{"domain":[0.19,150.19],"range":[0,1110],"nice":false,"zero":false},"axis":null},
  "y":{"field":"p","type":"quantitative","axis":null},
  "text":{"field":"text"}
 }},
{"data":{"name":"arrows"},"mark":{"type":"trail","color":"#f5f500","clip":true},
 "encoding":{
  "x":{"field":"i","type":"quantitative","scale":{"domain":[0.19,150.19],"range":[0,1110],"nice":false,"zero":false},"axis":null},
  "y":{"field":"p","type":"quantitative","axis":null},
  "detail":{"field":"a","type":"nominal"},
  "size":{"field":"t","type":"quantitative","legend":null,"scale":{"domain":[0,1],"range":[1.5,8]}}
 }},
{"data":{"name":"heads"},"transform":[{"filter":"datum.a === 1"}],"mark":{"type":"point","shape":"triangle-down","angle":339.4,"size":380,"filled":true,"opacity":1,"color":"#f5f500","clip":true},
 "encoding":{
  "x":{"field":"i","type":"quantitative","scale":{"domain":[0.19,150.19],"range":[0,1110],"nice":false,"zero":false},"axis":null},
  "y":{"field":"p","type":"quantitative","axis":null}
 }},
{"data":{"name":"heads"},"transform":[{"filter":"datum.a === 2"}],"mark":{"type":"point","shape":"triangle-up","angle":8,"size":340,"filled":true,"opacity":1,"color":"#f5f500","clip":true},
 "encoding":{
  "x":{"field":"i","type":"quantitative","scale":{"domain":[0.19,150.19],"range":[0,1110],"nice":false,"zero":false},"axis":null},
  "y":{"field":"p","type":"quantitative","axis":null}
 }}
]
},
{
"layer": [
{
"layer": [
{"data":{"name":"frame"},"mark":{"type":"rule","stroke":"#7a0c0c","strokeWidth":1,"xOffset":-2},
 "encoding":{"x":{"field":"col","type":"nominal","scale":{"type":"point","domain":["a","b","c","d"],"range":[1150,1280],"padding":0},"axis":null}}},
{"data":{"name":"seps"},"mark":{"type":"rule","stroke":"#7a0c0c","strokeWidth":1,"xOffset":-2,"x2Offset":4},
 "encoding":{
  "x":{"datum":"a","type":"nominal","scale":{"type":"point","domain":["a","b","c","d"],"range":[1150,1280],"padding":0},"axis":null},
  "x2":{"datum":"d"},
  "y":{"field":"row","type":"quantitative","scale":{"domain":[-1,17],"range":[0.3,301],"nice":false,"zero":false},"axis":null}
 }},
{"data":{"name":"book"},"mark":{"type":"text","align":"left","baseline":"middle","font":"Noto Sans CJK SC","fontSize":12,"color":"#c4c4c4"},
 "encoding":{
  "x":{"datum":"a","type":"nominal","scale":{"type":"point","domain":["a","b","c","d"],"range":[1150,1280],"padding":0},"axis":null},
  "y":{"field":"row","type":"quantitative","scale":{"domain":[-1,17],"range":[0.3,301],"nice":false,"zero":false},"axis":null},
  "text":{"field":"k1"}
 }},
{"data":{"name":"book"},"mark":{"type":"text","align":"right","baseline":"middle","dx":31,"font":"Liberation Sans Narrow, Liberation Sans, Arial","fontSize":12,"fontWeight":"bold"},
 "encoding":{
  "x":{"datum":"b","type":"nominal","scale":{"type":"point","domain":["a","b","c","d"],"range":[1150,1280],"padding":0},"axis":null},
  "y":{"field":"row","type":"quantitative","scale":{"domain":[-1,17],"range":[0.3,301],"nice":false,"zero":false},"axis":null},
  "text":{"field":"v1"},
  "color":{"field":"t1","type":"nominal","legend":null,"scale":{"domain":["up","down","doji","maUp","maDown","trendUp","trendDown","note","rise","fall","vol","big","plain","B","S"],"range":["#c83232","#1a9c9c","#d2d2d2","#e81818","#3fae3f","#ff14ff","#14f014","#eeee10","#ff4646","#00c800","#c8c800","#c414c4","#d2d2d2","#ff4646","#00c800"]}}
 }},
{"data":{"name":"book"},"mark":{"type":"text","align":"left","baseline":"middle","dx":-9,"font":"Noto Sans CJK SC","fontSize":12,"color":"#c4c4c4"},
 "encoding":{
  "x":{"datum":"c","type":"nominal","scale":{"type":"point","domain":["a","b","c","d"],"range":[1150,1280],"padding":0},"axis":null},
  "y":{"field":"row","type":"quantitative","scale":{"domain":[-1,17],"range":[0.3,301],"nice":false,"zero":false},"axis":null},
  "text":{"field":"k2"}
 }},
{"data":{"name":"book"},"mark":{"type":"text","align":"right","baseline":"middle","dx":20,"font":"Liberation Sans Narrow, Liberation Sans, Arial","fontSize":12,"fontWeight":"bold","clip":true},
 "encoding":{
  "x":{"datum":"d","type":"nominal","scale":{"type":"point","domain":["a","b","c","d"],"range":[1150,1280],"padding":0},"axis":null},
  "y":{"field":"row","type":"quantitative","scale":{"domain":[-1,17],"range":[0.3,301],"nice":false,"zero":false},"axis":null},
  "text":{"field":"v2"},
  "color":{"field":"t2","type":"nominal","legend":null,"scale":{"domain":["up","down","doji","maUp","maDown","trendUp","trendDown","note","rise","fall","vol","big","plain","B","S"],"range":["#c83232","#1a9c9c","#d2d2d2","#e81818","#3fae3f","#ff14ff","#14f014","#eeee10","#ff4646","#00c800","#c8c800","#c414c4","#d2d2d2","#ff4646","#00c800"]}}
 }}
]
},
{
"layer": [
{"data":{"name":"trades"},"mark":{"type":"text","align":"left","baseline":"middle","font":"Liberation Sans Narrow, Liberation Sans, Arial","fontSize":12,"fontWeight":"bold","color":"#d4d4d4"},
 "encoding":{
  "x":{"datum":"a","type":"nominal","scale":{"type":"point","domain":["a","b","c","d"],"range":[1150,1280],"padding":0},"axis":null},
  "y":{"field":"row","type":"quantitative","scale":{"domain":[0,29],"range":[320,770],"nice":false,"zero":false},"axis":null},
  "text":{"field":"time"}
 }},
{"data":{"name":"trades"},"mark":{"type":"text","align":"right","baseline":"middle","dx":30,"font":"Liberation Sans Narrow, Liberation Sans, Arial","fontSize":12,"color":"#ff4646"},
 "encoding":{
  "x":{"datum":"b","type":"nominal","scale":{"type":"point","domain":["a","b","c","d"],"range":[1150,1280],"padding":0},"axis":null},
  "y":{"field":"row","type":"quantitative","scale":{"domain":[0,29],"range":[320,770],"nice":false,"zero":false},"axis":null},
  "text":{"field":"price"}
 }},
{"data":{"name":"trades"},"mark":{"type":"text","align":"right","baseline":"middle","dx":29,"font":"Liberation Sans Narrow, Liberation Sans, Arial","fontSize":12},
 "encoding":{
  "x":{"datum":"c","type":"nominal","scale":{"type":"point","domain":["a","b","c","d"],"range":[1150,1280],"padding":0},"axis":null},
  "y":{"field":"row","type":"quantitative","scale":{"domain":[0,29],"range":[320,770],"nice":false,"zero":false},"axis":null},
  "text":{"field":"vol"},
  "color":{"field":"vt","type":"nominal","legend":null,"scale":{"domain":["up","down","doji","maUp","maDown","trendUp","trendDown","note","rise","fall","vol","big","plain","B","S"],"range":["#c83232","#1a9c9c","#d2d2d2","#e81818","#3fae3f","#ff14ff","#14f014","#eeee10","#ff4646","#00c800","#c8c800","#c414c4","#d2d2d2","#ff4646","#00c800"]}}
 }},
{"data":{"name":"trades"},"mark":{"type":"text","align":"center","baseline":"middle","dx":-4,"font":"Liberation Sans, Arial","fontSize":12,"fontWeight":"bold"},
 "encoding":{
  "x":{"datum":"d","type":"nominal","scale":{"type":"point","domain":["a","b","c","d"],"range":[1150,1280],"padding":0},"axis":null},
  "y":{"field":"row","type":"quantitative","scale":{"domain":[0,29],"range":[320,770],"nice":false,"zero":false},"axis":null},
  "text":{"field":"side"},
  "color":{"field":"side","type":"nominal","legend":null,"scale":{"domain":["up","down","doji","maUp","maDown","trendUp","trendDown","note","rise","fall","vol","big","plain","B","S"],"range":["#c83232","#1a9c9c","#d2d2d2","#e81818","#3fae3f","#ff14ff","#14f014","#eeee10","#ff4646","#00c800","#c8c800","#c414c4","#d2d2d2","#ff4646","#00c800"]}}
 }}
]
}
],
"resolve": {"scale": {"y": "independent"}}
}
],
"resolve": {"scale": {"x": "independent", "y": "independent"}}
}
